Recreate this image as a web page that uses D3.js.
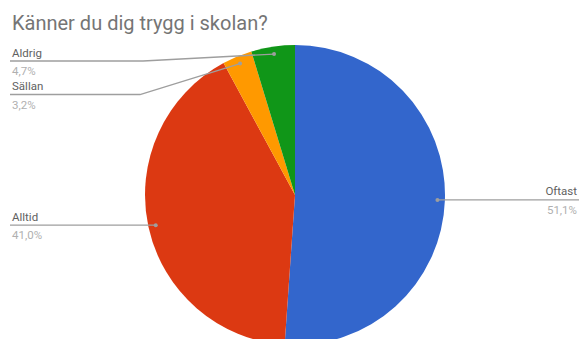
<!DOCTYPE html>
<html>
<head>
<meta charset="utf-8">
<script src="https://cdn.jsdelivr.net/npm/d3@7"></script>
<style>
  html, body { margin: 0; padding: 0; background: #fff; }
  svg { display: block; font-family: Roboto, "Noto Sans", sans-serif; }
</style>
</head>
<body>
<svg id="chart" width="579" height="339"></svg>
<script>
// Survey answers, in drawing order (clockwise from 12 o'clock)
const categories = ["Oftast", "Alltid", "Sällan", "Aldrig"];
const values = [51.1, 41.0, 3.2, 4.7];
const valueLabels = ["51,1%", "41,0%", "3,2%", "4,7%"];
const colors = ["#3366cc", "#dc3912", "#ff9900", "#109618"];
const title = "Känner du dig trygg i skolan?";

const W = 579, H = 339;
const cx = 295, cy = 195, R = 150;

const svg = d3.select("#chart");

svg.append("text")
  .attr("x", 12).attr("y", 30)
  .attr("fill", "#757575")
  .attr("font-size", 20)
  .text(title);

const data = categories.map((c, i) => ({ name: c, value: values[i], label: valueLabels[i], color: colors[i] }));

const pie = d3.pie().sort(null).value(d => d.value);
const arcs = pie(data);
const arc = d3.arc().innerRadius(0).outerRadius(R);
const dotArc = d3.arc().innerRadius(R * 0.95).outerRadius(R * 0.95);

const g = svg.append("g").attr("transform", `translate(${cx},${cy})`);
g.selectAll("path.slice")
  .data(arcs)
  .join("path")
  .attr("class", "slice")
  .attr("d", arc)
  .attr("fill", d => d.data.color);

// Label placement: side, line y (null = follow dot), elbow x
const layout = {
  "Oftast": { side: "right", lineY: null },
  "Alltid": { side: "left", lineY: null },
  "Aldrig": { side: "left", lineY: 61, elbowX: 143 },
  "Sällan": { side: "left", lineY: 94.5, elbowX: 140 }
};

const lineColor = "#9e9e9e";
arcs.forEach(a => {
  const [dx, dy] = dotArc.centroid(a);
  const px = cx + dx, py = cy + dy;
  const L = layout[a.data.name];
  const ly = L.lineY == null ? py : L.lineY;
  let pts;
  if (L.side === "right") {
    pts = [[px, py], [W, ly]];
  } else if (L.elbowX != null) {
    pts = [[10, ly], [L.elbowX, ly], [px, py]];
  } else {
    pts = [[10, ly], [px, py]];
  }
  svg.append("path")
    .attr("d", d3.line()(pts))
    .attr("fill", "none")
    .attr("stroke", lineColor)
    .attr("stroke-width", 1.3);
  svg.append("circle")
    .attr("cx", px).attr("cy", py).attr("r", 2)
    .attr("fill", "#9e9e9e");

  const tx = L.side === "right" ? W - 2 : 12;
  const anchor = L.side === "right" ? "end" : "start";
  svg.append("text")
    .attr("x", tx).attr("y", ly - 4.5)
    .attr("text-anchor", anchor)
    .attr("font-size", 11.5)
    .attr("fill", "#616161")
    .text(a.data.name);
  svg.append("text")
    .attr("x", tx).attr("y", ly + 14)
    .attr("text-anchor", anchor)
    .attr("font-size", 11.5)
    .attr("fill", "#b0b0b0")
    .text(a.data.label);
});
</script>
</body>
</html>
